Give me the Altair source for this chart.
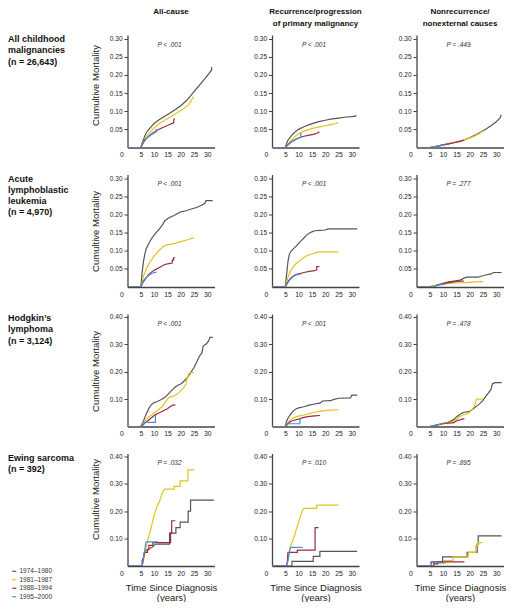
import altair as alt
import pandas as pd

FONT = "Liberation Sans"

periods = ["1974–1980", "1981–1987", "1988–1994", "1995–2000"]
period_colors = ["#555555", "#e6c21c", "#9c2a40", "#4a8fd9"]

row_labels = [
    "All childhood\nmalignancies\n(n = 26,643)",
    "Acute\nlymphoblastic\nleukemia\n(n = 4,970)",
    "Hodgkin’s\nlymphoma\n(n = 3,124)",
    "Ewing sarcoma\n(n = 392)",
]
col_titles = [
    "All-cause",
    "Recurrence/progression\nof primary malignancy",
    "Nonrecurrence/\nnonexternal causes",
]
p_values = [
    ["P < .001", "P < .001", "P = .449"],
    ["P < .001", "P < .001", "P = .277"],
    ["P < .001", "P < .001", "P = .478"],
    ["P = .032", "P = .010", "P = .895"],
]
y_max = [0.31, 0.31, 0.41, 0.41]
y_ticks = [
    [0.05, 0.10, 0.15, 0.20, 0.25, 0.30],
    [0.05, 0.10, 0.15, 0.20, 0.25, 0.30],
    [0.10, 0.20, 0.30, 0.40],
    [0.10, 0.20, 0.30, 0.40],
]
x_ticks = [0, 5, 10, 15, 20, 25, 30]

# (years since diagnosis, cumulative mortality); order: 1974-80, 1981-87, 1988-94, 1995-2000
all_allcause = [
    [(0, 0), (5, 0), (5.5, 0.012), (6, 0.022), (6.5, 0.032), (7, 0.04), (8, 0.05), (9, 0.058), (10, 0.066),
     (12, 0.077), (14, 0.086), (16, 0.095), (18, 0.105), (20, 0.115), (22, 0.128), (24, 0.145), (26, 0.163),
     (28, 0.18), (30, 0.198), (31.6, 0.213), (31.6, 0.222)],
    [(0, 0), (5, 0), (5.5, 0.008), (6, 0.016), (7, 0.028), (8, 0.038), (9, 0.046), (10, 0.054), (12, 0.066),
     (14, 0.075), (16, 0.084), (18, 0.093), (20, 0.101), (22, 0.112), (23, 0.118), (24, 0.13), (24.8, 0.14)],
    [(0, 0), (5, 0), (6, 0.014), (7, 0.024), (8, 0.031), (9, 0.037), (10, 0.042), (11, 0.047), (12, 0.051),
     (14, 0.057), (16, 0.064), (17.3, 0.068), (17.5, 0.078), (17.8, 0.078)],
    [(0, 0), (5, 0), (6, 0.018), (7, 0.025), (8, 0.03), (9, 0.035), (10, 0.04), (10.8, 0.043), (10.8, 0.052)],
]
all_recurrence = [
    [(0, 0), (5, 0), (5.5, 0.012), (6, 0.02), (7, 0.03), (8, 0.038), (9, 0.045), (10, 0.05), (12, 0.057),
     (14, 0.063), (16, 0.068), (18, 0.072), (20, 0.075), (22, 0.078), (25, 0.081), (28, 0.084), (30, 0.085),
     (31.8, 0.087)],
    [(0, 0), (5, 0), (6, 0.01), (7, 0.018), (8, 0.026), (9, 0.032), (10, 0.038), (12, 0.045), (14, 0.05),
     (16, 0.054), (18, 0.057), (20, 0.06), (22, 0.063), (24, 0.066), (24.8, 0.069)],
    [(0, 0), (5, 0), (6, 0.008), (7, 0.014), (8, 0.019), (9, 0.023), (10, 0.026), (11, 0.029), (12, 0.031),
     (14, 0.034), (16, 0.037), (17, 0.04), (17.8, 0.043)],
    [(0, 0), (5, 0), (6, 0.007), (7, 0.013), (8, 0.018), (9, 0.022), (10, 0.026), (10.8, 0.028), (10.8, 0.04)],
]
all_nonrecurrence = [
    [(0, 0), (5, 0), (6, 0.001), (8, 0.004), (10, 0.007), (12, 0.01), (14, 0.013), (16, 0.017), (18, 0.021),
     (20, 0.027), (22, 0.034), (24, 0.042), (26, 0.05), (28, 0.06), (30, 0.071), (31.5, 0.082), (31.8, 0.09)],
    [(0, 0), (5, 0), (6, 0.001), (8, 0.004), (10, 0.007), (12, 0.01), (14, 0.013), (16, 0.017), (18, 0.021),
     (20, 0.026), (22, 0.032), (24, 0.04), (24.8, 0.045)],
    [(0, 0), (5, 0), (6, 0.001), (8, 0.004), (10, 0.007), (12, 0.01), (14, 0.013), (16, 0.016), (17.8, 0.02)],
    [(0, 0), (5, 0), (6, 0.001), (8, 0.004), (10, 0.007), (10.8, 0.009)],
]
all_cohort = [all_allcause, all_recurrence, all_nonrecurrence]

all_leuk_allcause = [
    [(0, 0), (5, 0), (5.5, 0.04), (6, 0.07), (6.5, 0.09), (7, 0.105), (8, 0.12), (9, 0.133), (10, 0.143),
     (11, 0.152), (12, 0.16), (13, 0.17), (14, 0.182), (15, 0.188), (16, 0.192), (17.5, 0.197), (19, 0.203),
     (20, 0.207), (22, 0.21), (24, 0.215), (26, 0.219), (28, 0.226), (29, 0.23), (29.5, 0.238), (32, 0.238)],
    [(0, 0), (5, 0), (5.5, 0.012), (6, 0.03), (7, 0.048), (8, 0.063), (9, 0.075), (10, 0.085), (11, 0.094),
     (12, 0.102), (13, 0.109), (14, 0.114), (15, 0.116), (17, 0.119), (19, 0.123), (21, 0.127), (23, 0.131),
     (24, 0.134), (25, 0.135)],
    [(0, 0), (5, 0), (6, 0.015), (7, 0.025), (8, 0.035), (9, 0.041), (10, 0.046), (11, 0.05), (12, 0.054),
     (13, 0.058), (14, 0.062), (16, 0.065), (16.8, 0.066), (16.8, 0.074), (17.3, 0.074), (17.3, 0.08),
     (17.8, 0.08)],
    [(0, 0), (5, 0), (5.5, 0.008), (6, 0.018), (7, 0.026), (8, 0.032), (9, 0.037), (10, 0.04), (11, 0.041)],
]
all_leuk_recurrence = [
    [(0, 0), (5, 0), (5.5, 0.035), (6, 0.07), (6.5, 0.09), (7, 0.097), (8, 0.105), (9, 0.112), (10, 0.12),
     (11, 0.128), (12, 0.135), (13, 0.143), (14, 0.148), (15, 0.152), (16, 0.155), (18, 0.156), (20, 0.157),
     (21, 0.16), (32, 0.16)],
    [(0, 0), (5, 0), (5.5, 0.012), (6, 0.027), (7, 0.045), (8, 0.056), (9, 0.064), (10, 0.07), (11, 0.076),
     (12, 0.081), (13, 0.086), (14, 0.089), (15, 0.091), (16, 0.094), (17, 0.096), (18, 0.097), (25, 0.097)],
    [(0, 0), (5, 0), (6, 0.015), (7, 0.024), (8, 0.03), (9, 0.034), (10, 0.036), (12, 0.04), (14, 0.043),
     (16, 0.045), (16.8, 0.047), (16.8, 0.056), (17.8, 0.056)],
    [(0, 0), (5, 0), (6, 0.012), (7, 0.022), (8, 0.029), (9, 0.033), (10, 0.035), (10.8, 0.036)],
]
all_leuk_nonrecurrence = [
    [(0, 0), (5, 0), (7, 0.003), (8, 0.006), (10, 0.01), (12, 0.014), (14, 0.016), (16, 0.018), (17, 0.021),
     (18, 0.025), (19, 0.027), (23, 0.027), (24, 0.029), (26, 0.033), (28, 0.036), (29, 0.04), (32, 0.04)],
    [(0, 0), (5, 0), (5.5, 0.003), (8, 0.006), (10, 0.008), (12, 0.01), (15, 0.011), (18, 0.012), (20, 0.013),
     (22, 0.014), (25, 0.015)],
    [(0, 0), (5, 0), (7, 0.002), (8, 0.006), (10, 0.009), (12, 0.012), (14, 0.014), (16, 0.016), (17.8, 0.016)],
    [(0, 0), (5, 0), (6, 0.001), (7, 0.003), (8, 0.005), (10, 0.007), (10.8, 0.008)],
]
leuk_cohort = [all_leuk_allcause, all_leuk_recurrence, all_leuk_nonrecurrence]

hl_allcause = [
    [(0, 0), (5, 0), (5.5, 0.01), (6, 0.02), (7, 0.045), (8, 0.065), (9, 0.08), (10, 0.087), (11, 0.09),
     (12, 0.095), (13, 0.1), (14, 0.106), (15, 0.115), (16, 0.125), (17, 0.135), (18, 0.145), (19, 0.15),
     (20, 0.155), (21, 0.163), (22, 0.173), (23, 0.185), (24, 0.2), (25, 0.215), (26, 0.235), (27, 0.255),
     (28, 0.27), (28.5, 0.295), (29.5, 0.3), (30.5, 0.312), (31, 0.325), (32, 0.325)],
    [(0, 0), (5, 0), (6, 0.012), (7, 0.025), (8, 0.035), (9, 0.042), (10, 0.05), (11, 0.056), (12, 0.065),
     (13, 0.072), (14, 0.085), (15, 0.1), (16, 0.108), (17, 0.11), (18, 0.115), (19, 0.12), (20, 0.13),
     (21, 0.14), (22, 0.155), (22.5, 0.18), (23, 0.19), (23.5, 0.197), (25, 0.197)],
    [(0, 0), (5, 0), (6, 0.008), (7, 0.016), (8, 0.024), (9, 0.032), (10, 0.04), (11, 0.046), (12, 0.05),
     (13, 0.055), (14, 0.06), (15, 0.065), (16, 0.072), (17, 0.078), (18, 0.079)],
    [(0, 0), (5, 0), (6, 0.006), (6.5, 0.015), (10.5, 0.015), (10.5, 0.04), (10.8, 0.04)],
]
hl_recurrence = [
    [(0, 0), (5, 0), (5.5, 0.02), (6, 0.03), (7, 0.045), (8, 0.057), (9, 0.064), (10, 0.068), (12, 0.072),
     (14, 0.078), (16, 0.082), (18, 0.085), (19, 0.093), (22, 0.094), (23, 0.098), (25, 0.103), (29.5, 0.104),
     (30, 0.114), (32, 0.114)],
    [(0, 0), (5, 0), (6, 0.015), (7, 0.025), (8, 0.031), (9, 0.035), (10, 0.038), (12, 0.042), (14, 0.047),
     (16, 0.052), (18, 0.055), (20, 0.058), (22, 0.06), (25, 0.061)],
    [(0, 0), (5, 0), (6, 0.01), (7, 0.018), (8, 0.022), (10, 0.027), (12, 0.033), (14, 0.037), (16, 0.039),
     (18, 0.04)],
    [(0, 0), (5, 0), (6, 0.01), (10.5, 0.01), (10.5, 0.027), (10.8, 0.027)],
]
hl_nonrecurrence = [
    [(0, 0), (5, 0), (7, 0.004), (9, 0.009), (10, 0.012), (12, 0.016), (14, 0.025), (15, 0.035), (16, 0.042),
     (17, 0.048), (18, 0.052), (20, 0.055), (21, 0.062), (22, 0.07), (23, 0.077), (24, 0.085), (25, 0.095),
     (26, 0.11), (27, 0.122), (28, 0.135), (28.5, 0.155), (29.5, 0.16), (32, 0.16)],
    [(0, 0), (5, 0), (7, 0.004), (9, 0.009), (11, 0.013), (13, 0.017), (14, 0.02), (15, 0.025), (16, 0.035),
     (17, 0.04), (18, 0.043), (19, 0.047), (20, 0.053), (21, 0.062), (22, 0.08), (22.5, 0.1), (24.8, 0.1)],
    [(0, 0), (5, 0), (8, 0.006), (10, 0.01), (12, 0.012), (14, 0.014), (15, 0.02), (16, 0.023), (17, 0.027),
     (18, 0.028)],
    [(0, 0), (5, 0), (6, 0.002), (8, 0.007), (10, 0.01), (10.8, 0.012)],
]
hl_cohort = [hl_allcause, hl_recurrence, hl_nonrecurrence]

ewing_allcause = [
    [(0, 0), (5.5, 0), (5.5, 0.02), (6, 0.03), (6.3, 0.05), (6.8, 0.055), (7.5, 0.06), (8.5, 0.065),
     (9.5, 0.07), (10.5, 0.08), (15.8, 0.08), (15.8, 0.12), (18.2, 0.12), (18.2, 0.14), (19.8, 0.14),
     (19.8, 0.16), (22.8, 0.16), (22.8, 0.2), (23.7, 0.2), (23.7, 0.24), (32.5, 0.24)],
    [(0, 0), (5.5, 0), (6, 0.02), (6.5, 0.045), (7, 0.07), (7.5, 0.09), (8, 0.11), (8.5, 0.125), (9, 0.145),
     (9.5, 0.165), (10, 0.185), (10.5, 0.2), (11, 0.215), (11.5, 0.225), (12, 0.235), (12.5, 0.25),
     (13, 0.265), (13.5, 0.275), (14, 0.28), (17.5, 0.28), (17.5, 0.29), (19.8, 0.29), (19.8, 0.31),
     (22.7, 0.31), (22.7, 0.35), (25.3, 0.35)],
    [(0, 0), (5.5, 0), (6, 0.03), (6.5, 0.05), (7.5, 0.05), (7.5, 0.06), (8, 0.06), (8, 0.075), (9.5, 0.075),
     (9.5, 0.085), (16.2, 0.085), (16.2, 0.12), (16.6, 0.12), (16.6, 0.165), (18, 0.165)],
    [(0, 0), (5.5, 0), (6, 0.03), (6.5, 0.06), (7, 0.088), (11.5, 0.088)],
]
ewing_recurrence = [
    [(0, 0), (7.5, 0), (7.5, 0.017), (15.5, 0.017), (15.5, 0.035), (18, 0.035), (18, 0.053), (32, 0.053)],
    [(0, 0), (5.5, 0), (6, 0.02), (6.5, 0.05), (7, 0.075), (7.5, 0.085), (8, 0.1), (8.5, 0.11), (9, 0.13),
     (9.5, 0.145), (10, 0.16), (10.5, 0.175), (11, 0.19), (11.5, 0.205), (12, 0.21), (16.8, 0.21),
     (16.8, 0.222), (25, 0.222)],
    [(0, 0), (5.5, 0), (5.8, 0.02), (6, 0.05), (9.5, 0.05), (9.5, 0.058), (16.2, 0.058), (16.2, 0.14),
     (17.5, 0.14)],
    [(0, 0), (5.5, 0), (6, 0.02), (6.5, 0.05), (7, 0.068), (11.5, 0.068)],
]
ewing_nonrecurrence = [
    [(0, 0), (5.5, 0), (5.5, 0.015), (9.8, 0.015), (9.8, 0.033), (19, 0.033), (19, 0.05), (22.8, 0.05),
     (22.8, 0.08), (23.2, 0.08), (23.2, 0.11), (32, 0.11)],
    [(0, 0), (6.5, 0), (6.5, 0.01), (10.3, 0.01), (10.3, 0.02), (13.8, 0.02), (13.8, 0.033), (19.5, 0.033),
     (19.5, 0.05), (22.3, 0.05), (22.3, 0.075), (23, 0.075), (23, 0.085), (24.8, 0.085)],
    [(0, 0), (6.5, 0), (6.5, 0.008), (8, 0.008), (8, 0.015), (18, 0.015)],
    [(0, 0), (5.5, 0), (5.5, 0.012), (11, 0.012)],
]
ewing_cohort = [ewing_allcause, ewing_recurrence, ewing_nonrecurrence]

curves = [all_cohort, leuk_cohort, hl_cohort, ewing_cohort]

PW, PH = 87, 112.5
X_MAX = 32.7
y_title_pos = [50, 56.5, 57, 45.5]

legend = alt.Legend(
    title=None, orient="none", legendX=3, legendY=533, symbolType="stroke", symbolSize=16,
    symbolStrokeWidth=1.2, labelFontSize=6.5, labelFont=FONT, labelColor="#333", labelOffset=2,
    rowPadding=1.5, padding=0,
)


def panel(r, c):
    recs = []
    for k, pts in enumerate(curves[r][c]):
        for i, (t, v) in enumerate(pts):
            recs.append({"t": t, "v": v, "period": periods[k], "i": i})
    df = pd.DataFrame(recs)

    x_kw = dict(
        values=x_ticks, ticks=False, labelPadding=4, labelFontSize=6.8, labelFont=FONT,
        labelOffset={"condition": {"test": "datum.value === 0", "value": -8}, "value": 0},
        grid=False,
    )
    if r == 3:
        x_kw.update(titleX=PW / 2, titleY=16, titleBaseline="top", titleAlign="center",
                    titleFontSize=9.5, titleFont=FONT, titleFontWeight="normal",
                    titleColor="#222", titleLineHeight=10)
    x_title = ["Time Since Diagnosis", "(years)"] if r == 3 else None

    y_kw = dict(values=y_ticks[r], format=".2f", tickSize=3.5, labelPadding=2, labelFontSize=6.5,
                labelFont=FONT, grid=False)
    if c == 0:
        y_kw.update(titleX=-32, titleY=y_title_pos[r], titleAngle=270, titleAlign="center",
                    titleBaseline="middle", titleFontSize=9.5, titleFont=FONT,
                    titleFontWeight="normal", titleColor="#222")
    y_title = "Cumultive Mortality" if c == 0 else None

    lines = alt.Chart(df).mark_line(strokeWidth=1.2, clip=True).encode(
        x=alt.X("t:Q", title=x_title, scale=alt.Scale(domain=[0, X_MAX], nice=False),
                axis=alt.Axis(**x_kw)),
        y=alt.Y("v:Q", title=y_title, scale=alt.Scale(domain=[0, y_max[r]], nice=False),
                axis=alt.Axis(**y_kw)),
        color=alt.Color("period:N", scale=alt.Scale(domain=periods, range=period_colors), legend=legend),
        order=alt.Order("i:Q"),
    )
    ptxt = alt.Chart(pd.DataFrame({"p": [p_values[r][c]]})).mark_text(
        fontSize=6.5, font=FONT, fontStyle="italic", color="#333", baseline="middle", align="center"
    ).encode(text="p:N", x=alt.value(42), y=alt.value(9.5))
    layers = [lines, ptxt]
    if r == 0:
        head = alt.Chart(pd.DataFrame({"h": [col_titles[c]]})).mark_text(
            fontSize=8, font=FONT, fontWeight="bold", color="#111", baseline="top", align="center",
            lineBreak="\n", lineHeight=12,
        ).encode(text="h:N", x=alt.value(PW / 2), y=alt.value(-27))
        layers.append(head)
    return alt.layer(*layers).properties(width=PW, height=PH)


def label_view(r):
    return alt.Chart(pd.DataFrame({"lab": [row_labels[r]]})).mark_text(
        fontSize=9, font=FONT, fontWeight="bold", color="#111", align="left", baseline="top",
        lineBreak="\n", lineHeight=11.3,
    ).encode(text="lab:N", x=alt.value(0), y=alt.value(0)).properties(width=61.5, height=PH)


cells = []
for r in range(4):
    cells.append(label_view(r))
    for c in range(3):
        cells.append(panel(r, c))

chart = alt.concat(
    *cells, columns=4, spacing={"row": 26.5, "column": 57.5}, bounds="flush"
).properties(padding=0).configure_view(
    stroke=None
).configure_axis(
    domainColor="#444", domainWidth=1.3, tickColor="#444", labelColor="#222",
)

chart.save("out.html", embed_options={"renderer": "svg", "actions": False})
